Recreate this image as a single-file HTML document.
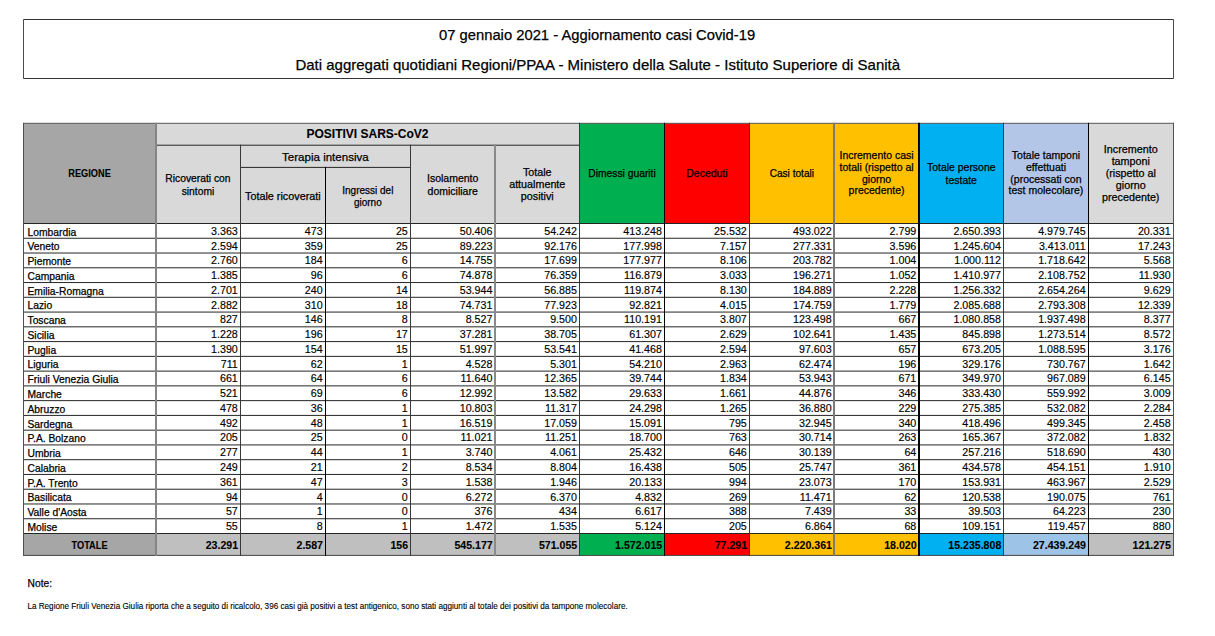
<!DOCTYPE html>
<html><head><meta charset="utf-8"><style>
html,body{margin:0;padding:0;background:#fff;}
body{width:1215px;height:636px;overflow:hidden;position:relative;}
svg{position:absolute;left:0;top:0;font-family:"Liberation Sans",sans-serif;}
text{stroke:#000;stroke-width:0.25px;}
text[font-weight=bold]{stroke-width:0.1px;}
text.sm{stroke-width:0.12px;}
text.num{stroke-width:0.15px;}
</style></head><body>
<svg width="1215" height="636" viewBox="0 0 1215 636">
<line x1="23.50" y1="19.50" x2="1173.50" y2="19.50" stroke="#333" stroke-width="1"/>
<line x1="23.50" y1="78.50" x2="1173.50" y2="78.50" stroke="#333" stroke-width="1"/>
<line x1="23.50" y1="19.50" x2="23.50" y2="78.50" stroke="#4a4a4a" stroke-width="1"/>
<line x1="1173.50" y1="19.50" x2="1173.50" y2="78.50" stroke="#4a4a4a" stroke-width="1"/>
<text x="439.00" y="39.90" font-size="15" textLength="316.20" lengthAdjust="spacingAndGlyphs">07 gennaio 2021 - Aggiornamento casi Covid-19</text>
<text x="295.40" y="69.80" font-size="14.8" textLength="604.70" lengthAdjust="spacingAndGlyphs">Dati aggregati quotidiani Regioni/PPAA - Ministero della Salute - Istituto Superiore di Sanità</text>
<rect x="23.60" y="123.30" width="131.90" height="99.90" fill="#a6a6a6"/>
<rect x="155.50" y="123.30" width="424.00" height="99.90" fill="#d9d9d9"/>
<rect x="579.50" y="123.30" width="85.00" height="99.90" fill="#00b050"/>
<rect x="664.50" y="123.30" width="84.90" height="99.90" fill="#ff0000"/>
<rect x="749.40" y="123.30" width="84.90" height="99.90" fill="#ffc000"/>
<rect x="834.30" y="123.30" width="84.60" height="99.90" fill="#ffc000"/>
<rect x="918.90" y="123.30" width="84.70" height="99.90" fill="#00b0f0"/>
<rect x="1003.60" y="123.30" width="84.70" height="99.90" fill="#b4c6e7"/>
<rect x="1088.30" y="123.30" width="84.90" height="99.90" fill="#d9d9d9"/>
<rect x="23.60" y="533.50" width="131.90" height="21.90" fill="#a6a6a6"/>
<rect x="155.50" y="533.50" width="84.90" height="21.90" fill="#bfbfbf"/>
<rect x="240.40" y="533.50" width="84.90" height="21.90" fill="#bfbfbf"/>
<rect x="325.30" y="533.50" width="85.10" height="21.90" fill="#bfbfbf"/>
<rect x="410.40" y="533.50" width="84.60" height="21.90" fill="#bfbfbf"/>
<rect x="495.00" y="533.50" width="84.50" height="21.90" fill="#bfbfbf"/>
<rect x="579.50" y="533.50" width="85.00" height="21.90" fill="#00b050"/>
<rect x="664.50" y="533.50" width="84.90" height="21.90" fill="#ff0000"/>
<rect x="749.40" y="533.50" width="84.90" height="21.90" fill="#ffc000"/>
<rect x="834.30" y="533.50" width="84.60" height="21.90" fill="#ffc000"/>
<rect x="918.90" y="533.50" width="84.70" height="21.90" fill="#00b0f0"/>
<rect x="1003.60" y="533.50" width="84.70" height="21.90" fill="#9dc3e6"/>
<rect x="1088.30" y="533.50" width="84.90" height="21.90" fill="#bfbfbf"/>
<line x1="23.60" y1="123.30" x2="1173.70" y2="123.30" stroke="#555" stroke-width="1"/>
<line x1="155.50" y1="145.20" x2="579.50" y2="145.20" stroke="#262626" stroke-width="1.0"/>
<line x1="240.40" y1="167.40" x2="410.40" y2="167.40" stroke="#262626" stroke-width="1.0"/>
<line x1="23.60" y1="223.50" x2="1173.70" y2="223.50" stroke="#262626" stroke-width="1.0"/>
<line x1="23.60" y1="238.26" x2="1173.70" y2="238.26" stroke="#262626" stroke-width="1.0"/>
<line x1="23.60" y1="253.02" x2="1173.70" y2="253.02" stroke="#262626" stroke-width="1.0"/>
<line x1="23.60" y1="267.79" x2="1173.70" y2="267.79" stroke="#262626" stroke-width="1.0"/>
<line x1="23.60" y1="282.55" x2="1173.70" y2="282.55" stroke="#262626" stroke-width="1.0"/>
<line x1="23.60" y1="297.31" x2="1173.70" y2="297.31" stroke="#262626" stroke-width="1.0"/>
<line x1="23.60" y1="312.07" x2="1173.70" y2="312.07" stroke="#262626" stroke-width="1.0"/>
<line x1="23.60" y1="326.83" x2="1173.70" y2="326.83" stroke="#262626" stroke-width="1.0"/>
<line x1="23.60" y1="341.60" x2="1173.70" y2="341.60" stroke="#262626" stroke-width="1.0"/>
<line x1="23.60" y1="356.36" x2="1173.70" y2="356.36" stroke="#262626" stroke-width="1.0"/>
<line x1="23.60" y1="371.12" x2="1173.70" y2="371.12" stroke="#262626" stroke-width="1.0"/>
<line x1="23.60" y1="385.88" x2="1173.70" y2="385.88" stroke="#262626" stroke-width="1.0"/>
<line x1="23.60" y1="400.64" x2="1173.70" y2="400.64" stroke="#262626" stroke-width="1.0"/>
<line x1="23.60" y1="415.41" x2="1173.70" y2="415.41" stroke="#262626" stroke-width="1.0"/>
<line x1="23.60" y1="430.17" x2="1173.70" y2="430.17" stroke="#262626" stroke-width="1.0"/>
<line x1="23.60" y1="444.93" x2="1173.70" y2="444.93" stroke="#262626" stroke-width="1.0"/>
<line x1="23.60" y1="459.69" x2="1173.70" y2="459.69" stroke="#262626" stroke-width="1.0"/>
<line x1="23.60" y1="474.45" x2="1173.70" y2="474.45" stroke="#262626" stroke-width="1.0"/>
<line x1="23.60" y1="489.22" x2="1173.70" y2="489.22" stroke="#262626" stroke-width="1.0"/>
<line x1="23.60" y1="503.98" x2="1173.70" y2="503.98" stroke="#262626" stroke-width="1.0"/>
<line x1="23.60" y1="518.74" x2="1173.70" y2="518.74" stroke="#262626" stroke-width="1.0"/>
<line x1="23.60" y1="533.50" x2="1173.70" y2="533.50" stroke="#262626" stroke-width="1.0"/>
<line x1="23.60" y1="555.40" x2="1173.70" y2="555.40" stroke="#444" stroke-width="1"/>
<rect x="23.00" y="122.80" width="1.00" height="433.10" fill="#505050"/>
<rect x="155.00" y="122.80" width="2.00" height="433.10" fill="#858585"/>
<rect x="240.00" y="144.70" width="1.00" height="411.20" fill="#383838"/>
<rect x="325.00" y="166.90" width="1.00" height="389.00" fill="#000"/>
<rect x="410.00" y="144.70" width="1.00" height="411.20" fill="#383838"/>
<rect x="494.00" y="144.70" width="2.00" height="411.20" fill="#8a8a8a"/>
<rect x="579.00" y="122.80" width="1.00" height="433.10" fill="#383838"/>
<rect x="664.00" y="122.80" width="1.00" height="433.10" fill="#000"/>
<rect x="749.00" y="122.80" width="1.00" height="433.10" fill="#383838"/>
<rect x="833.00" y="122.80" width="2.00" height="433.10" fill="#7a7a7a"/>
<rect x="918.00" y="122.80" width="2.00" height="433.10" fill="#000"/>
<rect x="1003.00" y="122.80" width="1.00" height="433.10" fill="#383838"/>
<rect x="1088.00" y="122.80" width="1.00" height="433.10" fill="#000"/>
<rect x="1173.00" y="122.80" width="1.00" height="433.10" fill="#505050"/>
<text x="89.55" y="177.00" font-size="10" text-anchor="middle" font-weight="bold" textLength="42.50" lengthAdjust="spacingAndGlyphs">REGIONE</text>
<text x="367.50" y="138.40" font-size="13.3" text-anchor="middle" font-weight="bold" textLength="122.00" lengthAdjust="spacingAndGlyphs">POSITIVI SARS-CoV2</text>
<text x="197.95" y="181.80" font-size="10.3" text-anchor="middle">Ricoverati con</text>
<text x="197.95" y="194.65" font-size="10.3" text-anchor="middle">sintomi</text>
<text x="325.40" y="160.90" font-size="11.7" text-anchor="middle" textLength="86.60" lengthAdjust="spacingAndGlyphs">Terapia intensiva</text>
<text x="282.85" y="199.80" font-size="10.8" text-anchor="middle">Totale ricoverati</text>
<text x="367.85" y="193.90" font-size="10.0" text-anchor="middle">Ingressi del</text>
<text x="367.85" y="205.80" font-size="10.0" text-anchor="middle">giorno</text>
<text x="452.70" y="181.65" font-size="10.5" text-anchor="middle">Isolamento</text>
<text x="452.70" y="194.60" font-size="10.5" text-anchor="middle">domiciliare</text>
<text x="537.25" y="175.90" font-size="10.76" text-anchor="middle">Totale</text>
<text x="537.25" y="188.20" font-size="10.76" text-anchor="middle">attualmente</text>
<text x="537.25" y="200.30" font-size="10.76" text-anchor="middle">positivi</text>
<text x="622.00" y="177.10" font-size="10.3" text-anchor="middle">Dimessi guariti</text>
<text x="706.95" y="177.10" font-size="10.46" text-anchor="middle">Deceduti</text>
<text x="791.85" y="177.10" font-size="10.1" text-anchor="middle">Casi totali</text>
<text x="876.60" y="158.70" font-size="10.5" text-anchor="middle">Incremento casi</text>
<text x="876.60" y="170.63" font-size="10.5" text-anchor="middle">totali (rispetto al</text>
<text x="876.60" y="182.56" font-size="10.5" text-anchor="middle">giorno</text>
<text x="876.60" y="194.49" font-size="10.5" text-anchor="middle">precedente)</text>
<text x="961.25" y="170.60" font-size="10.46" text-anchor="middle">Totale persone</text>
<text x="961.25" y="183.70" font-size="10.46" text-anchor="middle">testate</text>
<text x="1045.95" y="158.70" font-size="10.5" text-anchor="middle">Totale tamponi</text>
<text x="1045.95" y="170.63" font-size="10.5" text-anchor="middle">effettuati</text>
<text x="1045.95" y="182.56" font-size="10.5" text-anchor="middle">(processati con</text>
<text x="1045.95" y="194.49" font-size="10.5" text-anchor="middle">test molecolare)</text>
<text x="1130.75" y="152.60" font-size="10.75" text-anchor="middle">Incremento</text>
<text x="1130.75" y="164.72" font-size="10.75" text-anchor="middle">tamponi</text>
<text x="1130.75" y="176.84" font-size="10.75" text-anchor="middle">(rispetto al</text>
<text x="1130.75" y="188.96" font-size="10.75" text-anchor="middle">giorno</text>
<text x="1130.75" y="201.08" font-size="10.75" text-anchor="middle">precedente)</text>
<text x="27.50" y="235.60" font-size="10.3">Lombardia</text>
<text x="237.80" y="234.80" font-size="10.7" class="num" text-anchor="end">3.363</text>
<text x="322.70" y="234.80" font-size="10.7" class="num" text-anchor="end">473</text>
<text x="407.80" y="234.80" font-size="10.7" class="num" text-anchor="end">25</text>
<text x="492.40" y="234.80" font-size="10.7" class="num" text-anchor="end">50.406</text>
<text x="576.90" y="234.80" font-size="10.7" class="num" text-anchor="end">54.242</text>
<text x="661.90" y="234.80" font-size="10.7" class="num" text-anchor="end">413.248</text>
<text x="746.80" y="234.80" font-size="10.7" class="num" text-anchor="end">25.532</text>
<text x="831.70" y="234.80" font-size="10.7" class="num" text-anchor="end">493.022</text>
<text x="916.30" y="234.80" font-size="10.7" class="num" text-anchor="end">2.799</text>
<text x="1001.00" y="234.80" font-size="10.7" class="num" text-anchor="end">2.650.393</text>
<text x="1085.70" y="234.80" font-size="10.7" class="num" text-anchor="end">4.979.745</text>
<text x="1170.60" y="234.80" font-size="10.7" class="num" text-anchor="end">20.331</text>
<text x="27.50" y="250.36" font-size="10.3">Veneto</text>
<text x="237.80" y="249.56" font-size="10.7" class="num" text-anchor="end">2.594</text>
<text x="322.70" y="249.56" font-size="10.7" class="num" text-anchor="end">359</text>
<text x="407.80" y="249.56" font-size="10.7" class="num" text-anchor="end">25</text>
<text x="492.40" y="249.56" font-size="10.7" class="num" text-anchor="end">89.223</text>
<text x="576.90" y="249.56" font-size="10.7" class="num" text-anchor="end">92.176</text>
<text x="661.90" y="249.56" font-size="10.7" class="num" text-anchor="end">177.998</text>
<text x="746.80" y="249.56" font-size="10.7" class="num" text-anchor="end">7.157</text>
<text x="831.70" y="249.56" font-size="10.7" class="num" text-anchor="end">277.331</text>
<text x="916.30" y="249.56" font-size="10.7" class="num" text-anchor="end">3.596</text>
<text x="1001.00" y="249.56" font-size="10.7" class="num" text-anchor="end">1.245.604</text>
<text x="1085.70" y="249.56" font-size="10.7" class="num" text-anchor="end">3.413.011</text>
<text x="1170.60" y="249.56" font-size="10.7" class="num" text-anchor="end">17.243</text>
<text x="27.50" y="265.12" font-size="10.3">Piemonte</text>
<text x="237.80" y="264.32" font-size="10.7" class="num" text-anchor="end">2.760</text>
<text x="322.70" y="264.32" font-size="10.7" class="num" text-anchor="end">184</text>
<text x="407.80" y="264.32" font-size="10.7" class="num" text-anchor="end">6</text>
<text x="492.40" y="264.32" font-size="10.7" class="num" text-anchor="end">14.755</text>
<text x="576.90" y="264.32" font-size="10.7" class="num" text-anchor="end">17.699</text>
<text x="661.90" y="264.32" font-size="10.7" class="num" text-anchor="end">177.977</text>
<text x="746.80" y="264.32" font-size="10.7" class="num" text-anchor="end">8.106</text>
<text x="831.70" y="264.32" font-size="10.7" class="num" text-anchor="end">203.782</text>
<text x="916.30" y="264.32" font-size="10.7" class="num" text-anchor="end">1.004</text>
<text x="1001.00" y="264.32" font-size="10.7" class="num" text-anchor="end">1.000.112</text>
<text x="1085.70" y="264.32" font-size="10.7" class="num" text-anchor="end">1.718.642</text>
<text x="1170.60" y="264.32" font-size="10.7" class="num" text-anchor="end">5.568</text>
<text x="27.50" y="279.89" font-size="10.3">Campania</text>
<text x="237.80" y="279.09" font-size="10.7" class="num" text-anchor="end">1.385</text>
<text x="322.70" y="279.09" font-size="10.7" class="num" text-anchor="end">96</text>
<text x="407.80" y="279.09" font-size="10.7" class="num" text-anchor="end">6</text>
<text x="492.40" y="279.09" font-size="10.7" class="num" text-anchor="end">74.878</text>
<text x="576.90" y="279.09" font-size="10.7" class="num" text-anchor="end">76.359</text>
<text x="661.90" y="279.09" font-size="10.7" class="num" text-anchor="end">116.879</text>
<text x="746.80" y="279.09" font-size="10.7" class="num" text-anchor="end">3.033</text>
<text x="831.70" y="279.09" font-size="10.7" class="num" text-anchor="end">196.271</text>
<text x="916.30" y="279.09" font-size="10.7" class="num" text-anchor="end">1.052</text>
<text x="1001.00" y="279.09" font-size="10.7" class="num" text-anchor="end">1.410.977</text>
<text x="1085.70" y="279.09" font-size="10.7" class="num" text-anchor="end">2.108.752</text>
<text x="1170.60" y="279.09" font-size="10.7" class="num" text-anchor="end">11.930</text>
<text x="27.50" y="294.65" font-size="10.3">Emilia-Romagna</text>
<text x="237.80" y="293.85" font-size="10.7" class="num" text-anchor="end">2.701</text>
<text x="322.70" y="293.85" font-size="10.7" class="num" text-anchor="end">240</text>
<text x="407.80" y="293.85" font-size="10.7" class="num" text-anchor="end">14</text>
<text x="492.40" y="293.85" font-size="10.7" class="num" text-anchor="end">53.944</text>
<text x="576.90" y="293.85" font-size="10.7" class="num" text-anchor="end">56.885</text>
<text x="661.90" y="293.85" font-size="10.7" class="num" text-anchor="end">119.874</text>
<text x="746.80" y="293.85" font-size="10.7" class="num" text-anchor="end">8.130</text>
<text x="831.70" y="293.85" font-size="10.7" class="num" text-anchor="end">184.889</text>
<text x="916.30" y="293.85" font-size="10.7" class="num" text-anchor="end">2.228</text>
<text x="1001.00" y="293.85" font-size="10.7" class="num" text-anchor="end">1.256.332</text>
<text x="1085.70" y="293.85" font-size="10.7" class="num" text-anchor="end">2.654.264</text>
<text x="1170.60" y="293.85" font-size="10.7" class="num" text-anchor="end">9.629</text>
<text x="27.50" y="309.41" font-size="10.3">Lazio</text>
<text x="237.80" y="308.61" font-size="10.7" class="num" text-anchor="end">2.882</text>
<text x="322.70" y="308.61" font-size="10.7" class="num" text-anchor="end">310</text>
<text x="407.80" y="308.61" font-size="10.7" class="num" text-anchor="end">18</text>
<text x="492.40" y="308.61" font-size="10.7" class="num" text-anchor="end">74.731</text>
<text x="576.90" y="308.61" font-size="10.7" class="num" text-anchor="end">77.923</text>
<text x="661.90" y="308.61" font-size="10.7" class="num" text-anchor="end">92.821</text>
<text x="746.80" y="308.61" font-size="10.7" class="num" text-anchor="end">4.015</text>
<text x="831.70" y="308.61" font-size="10.7" class="num" text-anchor="end">174.759</text>
<text x="916.30" y="308.61" font-size="10.7" class="num" text-anchor="end">1.779</text>
<text x="1001.00" y="308.61" font-size="10.7" class="num" text-anchor="end">2.085.688</text>
<text x="1085.70" y="308.61" font-size="10.7" class="num" text-anchor="end">2.793.308</text>
<text x="1170.60" y="308.61" font-size="10.7" class="num" text-anchor="end">12.339</text>
<text x="27.50" y="324.17" font-size="10.3">Toscana</text>
<text x="237.80" y="323.37" font-size="10.7" class="num" text-anchor="end">827</text>
<text x="322.70" y="323.37" font-size="10.7" class="num" text-anchor="end">146</text>
<text x="407.80" y="323.37" font-size="10.7" class="num" text-anchor="end">8</text>
<text x="492.40" y="323.37" font-size="10.7" class="num" text-anchor="end">8.527</text>
<text x="576.90" y="323.37" font-size="10.7" class="num" text-anchor="end">9.500</text>
<text x="661.90" y="323.37" font-size="10.7" class="num" text-anchor="end">110.191</text>
<text x="746.80" y="323.37" font-size="10.7" class="num" text-anchor="end">3.807</text>
<text x="831.70" y="323.37" font-size="10.7" class="num" text-anchor="end">123.498</text>
<text x="916.30" y="323.37" font-size="10.7" class="num" text-anchor="end">667</text>
<text x="1001.00" y="323.37" font-size="10.7" class="num" text-anchor="end">1.080.858</text>
<text x="1085.70" y="323.37" font-size="10.7" class="num" text-anchor="end">1.937.498</text>
<text x="1170.60" y="323.37" font-size="10.7" class="num" text-anchor="end">8.377</text>
<text x="27.50" y="338.93" font-size="10.3">Sicilia</text>
<text x="237.80" y="338.13" font-size="10.7" class="num" text-anchor="end">1.228</text>
<text x="322.70" y="338.13" font-size="10.7" class="num" text-anchor="end">196</text>
<text x="407.80" y="338.13" font-size="10.7" class="num" text-anchor="end">17</text>
<text x="492.40" y="338.13" font-size="10.7" class="num" text-anchor="end">37.281</text>
<text x="576.90" y="338.13" font-size="10.7" class="num" text-anchor="end">38.705</text>
<text x="661.90" y="338.13" font-size="10.7" class="num" text-anchor="end">61.307</text>
<text x="746.80" y="338.13" font-size="10.7" class="num" text-anchor="end">2.629</text>
<text x="831.70" y="338.13" font-size="10.7" class="num" text-anchor="end">102.641</text>
<text x="916.30" y="338.13" font-size="10.7" class="num" text-anchor="end">1.435</text>
<text x="1001.00" y="338.13" font-size="10.7" class="num" text-anchor="end">845.898</text>
<text x="1085.70" y="338.13" font-size="10.7" class="num" text-anchor="end">1.273.514</text>
<text x="1170.60" y="338.13" font-size="10.7" class="num" text-anchor="end">8.572</text>
<text x="27.50" y="353.70" font-size="10.3">Puglia</text>
<text x="237.80" y="352.90" font-size="10.7" class="num" text-anchor="end">1.390</text>
<text x="322.70" y="352.90" font-size="10.7" class="num" text-anchor="end">154</text>
<text x="407.80" y="352.90" font-size="10.7" class="num" text-anchor="end">15</text>
<text x="492.40" y="352.90" font-size="10.7" class="num" text-anchor="end">51.997</text>
<text x="576.90" y="352.90" font-size="10.7" class="num" text-anchor="end">53.541</text>
<text x="661.90" y="352.90" font-size="10.7" class="num" text-anchor="end">41.468</text>
<text x="746.80" y="352.90" font-size="10.7" class="num" text-anchor="end">2.594</text>
<text x="831.70" y="352.90" font-size="10.7" class="num" text-anchor="end">97.603</text>
<text x="916.30" y="352.90" font-size="10.7" class="num" text-anchor="end">657</text>
<text x="1001.00" y="352.90" font-size="10.7" class="num" text-anchor="end">673.205</text>
<text x="1085.70" y="352.90" font-size="10.7" class="num" text-anchor="end">1.088.595</text>
<text x="1170.60" y="352.90" font-size="10.7" class="num" text-anchor="end">3.176</text>
<text x="27.50" y="368.46" font-size="10.3">Liguria</text>
<text x="237.80" y="367.66" font-size="10.7" class="num" text-anchor="end">711</text>
<text x="322.70" y="367.66" font-size="10.7" class="num" text-anchor="end">62</text>
<text x="407.80" y="367.66" font-size="10.7" class="num" text-anchor="end">1</text>
<text x="492.40" y="367.66" font-size="10.7" class="num" text-anchor="end">4.528</text>
<text x="576.90" y="367.66" font-size="10.7" class="num" text-anchor="end">5.301</text>
<text x="661.90" y="367.66" font-size="10.7" class="num" text-anchor="end">54.210</text>
<text x="746.80" y="367.66" font-size="10.7" class="num" text-anchor="end">2.963</text>
<text x="831.70" y="367.66" font-size="10.7" class="num" text-anchor="end">62.474</text>
<text x="916.30" y="367.66" font-size="10.7" class="num" text-anchor="end">196</text>
<text x="1001.00" y="367.66" font-size="10.7" class="num" text-anchor="end">329.176</text>
<text x="1085.70" y="367.66" font-size="10.7" class="num" text-anchor="end">730.767</text>
<text x="1170.60" y="367.66" font-size="10.7" class="num" text-anchor="end">1.642</text>
<text x="27.50" y="383.22" font-size="10.3">Friuli Venezia Giulia</text>
<text x="237.80" y="382.42" font-size="10.7" class="num" text-anchor="end">661</text>
<text x="322.70" y="382.42" font-size="10.7" class="num" text-anchor="end">64</text>
<text x="407.80" y="382.42" font-size="10.7" class="num" text-anchor="end">6</text>
<text x="492.40" y="382.42" font-size="10.7" class="num" text-anchor="end">11.640</text>
<text x="576.90" y="382.42" font-size="10.7" class="num" text-anchor="end">12.365</text>
<text x="661.90" y="382.42" font-size="10.7" class="num" text-anchor="end">39.744</text>
<text x="746.80" y="382.42" font-size="10.7" class="num" text-anchor="end">1.834</text>
<text x="831.70" y="382.42" font-size="10.7" class="num" text-anchor="end">53.943</text>
<text x="916.30" y="382.42" font-size="10.7" class="num" text-anchor="end">671</text>
<text x="1001.00" y="382.42" font-size="10.7" class="num" text-anchor="end">349.970</text>
<text x="1085.70" y="382.42" font-size="10.7" class="num" text-anchor="end">967.089</text>
<text x="1170.60" y="382.42" font-size="10.7" class="num" text-anchor="end">6.145</text>
<text x="27.50" y="397.98" font-size="10.3">Marche</text>
<text x="237.80" y="397.18" font-size="10.7" class="num" text-anchor="end">521</text>
<text x="322.70" y="397.18" font-size="10.7" class="num" text-anchor="end">69</text>
<text x="407.80" y="397.18" font-size="10.7" class="num" text-anchor="end">6</text>
<text x="492.40" y="397.18" font-size="10.7" class="num" text-anchor="end">12.992</text>
<text x="576.90" y="397.18" font-size="10.7" class="num" text-anchor="end">13.582</text>
<text x="661.90" y="397.18" font-size="10.7" class="num" text-anchor="end">29.633</text>
<text x="746.80" y="397.18" font-size="10.7" class="num" text-anchor="end">1.661</text>
<text x="831.70" y="397.18" font-size="10.7" class="num" text-anchor="end">44.876</text>
<text x="916.30" y="397.18" font-size="10.7" class="num" text-anchor="end">346</text>
<text x="1001.00" y="397.18" font-size="10.7" class="num" text-anchor="end">333.430</text>
<text x="1085.70" y="397.18" font-size="10.7" class="num" text-anchor="end">559.992</text>
<text x="1170.60" y="397.18" font-size="10.7" class="num" text-anchor="end">3.009</text>
<text x="27.50" y="412.74" font-size="10.3">Abruzzo</text>
<text x="237.80" y="411.94" font-size="10.7" class="num" text-anchor="end">478</text>
<text x="322.70" y="411.94" font-size="10.7" class="num" text-anchor="end">36</text>
<text x="407.80" y="411.94" font-size="10.7" class="num" text-anchor="end">1</text>
<text x="492.40" y="411.94" font-size="10.7" class="num" text-anchor="end">10.803</text>
<text x="576.90" y="411.94" font-size="10.7" class="num" text-anchor="end">11.317</text>
<text x="661.90" y="411.94" font-size="10.7" class="num" text-anchor="end">24.298</text>
<text x="746.80" y="411.94" font-size="10.7" class="num" text-anchor="end">1.265</text>
<text x="831.70" y="411.94" font-size="10.7" class="num" text-anchor="end">36.880</text>
<text x="916.30" y="411.94" font-size="10.7" class="num" text-anchor="end">229</text>
<text x="1001.00" y="411.94" font-size="10.7" class="num" text-anchor="end">275.385</text>
<text x="1085.70" y="411.94" font-size="10.7" class="num" text-anchor="end">532.082</text>
<text x="1170.60" y="411.94" font-size="10.7" class="num" text-anchor="end">2.284</text>
<text x="27.50" y="427.51" font-size="10.3">Sardegna</text>
<text x="237.80" y="426.71" font-size="10.7" class="num" text-anchor="end">492</text>
<text x="322.70" y="426.71" font-size="10.7" class="num" text-anchor="end">48</text>
<text x="407.80" y="426.71" font-size="10.7" class="num" text-anchor="end">1</text>
<text x="492.40" y="426.71" font-size="10.7" class="num" text-anchor="end">16.519</text>
<text x="576.90" y="426.71" font-size="10.7" class="num" text-anchor="end">17.059</text>
<text x="661.90" y="426.71" font-size="10.7" class="num" text-anchor="end">15.091</text>
<text x="746.80" y="426.71" font-size="10.7" class="num" text-anchor="end">795</text>
<text x="831.70" y="426.71" font-size="10.7" class="num" text-anchor="end">32.945</text>
<text x="916.30" y="426.71" font-size="10.7" class="num" text-anchor="end">340</text>
<text x="1001.00" y="426.71" font-size="10.7" class="num" text-anchor="end">418.496</text>
<text x="1085.70" y="426.71" font-size="10.7" class="num" text-anchor="end">499.345</text>
<text x="1170.60" y="426.71" font-size="10.7" class="num" text-anchor="end">2.458</text>
<text x="27.50" y="442.27" font-size="10.3">P.A. Bolzano</text>
<text x="237.80" y="441.47" font-size="10.7" class="num" text-anchor="end">205</text>
<text x="322.70" y="441.47" font-size="10.7" class="num" text-anchor="end">25</text>
<text x="407.80" y="441.47" font-size="10.7" class="num" text-anchor="end">0</text>
<text x="492.40" y="441.47" font-size="10.7" class="num" text-anchor="end">11.021</text>
<text x="576.90" y="441.47" font-size="10.7" class="num" text-anchor="end">11.251</text>
<text x="661.90" y="441.47" font-size="10.7" class="num" text-anchor="end">18.700</text>
<text x="746.80" y="441.47" font-size="10.7" class="num" text-anchor="end">763</text>
<text x="831.70" y="441.47" font-size="10.7" class="num" text-anchor="end">30.714</text>
<text x="916.30" y="441.47" font-size="10.7" class="num" text-anchor="end">263</text>
<text x="1001.00" y="441.47" font-size="10.7" class="num" text-anchor="end">165.367</text>
<text x="1085.70" y="441.47" font-size="10.7" class="num" text-anchor="end">372.082</text>
<text x="1170.60" y="441.47" font-size="10.7" class="num" text-anchor="end">1.832</text>
<text x="27.50" y="457.03" font-size="10.3">Umbria</text>
<text x="237.80" y="456.23" font-size="10.7" class="num" text-anchor="end">277</text>
<text x="322.70" y="456.23" font-size="10.7" class="num" text-anchor="end">44</text>
<text x="407.80" y="456.23" font-size="10.7" class="num" text-anchor="end">1</text>
<text x="492.40" y="456.23" font-size="10.7" class="num" text-anchor="end">3.740</text>
<text x="576.90" y="456.23" font-size="10.7" class="num" text-anchor="end">4.061</text>
<text x="661.90" y="456.23" font-size="10.7" class="num" text-anchor="end">25.432</text>
<text x="746.80" y="456.23" font-size="10.7" class="num" text-anchor="end">646</text>
<text x="831.70" y="456.23" font-size="10.7" class="num" text-anchor="end">30.139</text>
<text x="916.30" y="456.23" font-size="10.7" class="num" text-anchor="end">64</text>
<text x="1001.00" y="456.23" font-size="10.7" class="num" text-anchor="end">257.216</text>
<text x="1085.70" y="456.23" font-size="10.7" class="num" text-anchor="end">518.690</text>
<text x="1170.60" y="456.23" font-size="10.7" class="num" text-anchor="end">430</text>
<text x="27.50" y="471.79" font-size="10.3">Calabria</text>
<text x="237.80" y="470.99" font-size="10.7" class="num" text-anchor="end">249</text>
<text x="322.70" y="470.99" font-size="10.7" class="num" text-anchor="end">21</text>
<text x="407.80" y="470.99" font-size="10.7" class="num" text-anchor="end">2</text>
<text x="492.40" y="470.99" font-size="10.7" class="num" text-anchor="end">8.534</text>
<text x="576.90" y="470.99" font-size="10.7" class="num" text-anchor="end">8.804</text>
<text x="661.90" y="470.99" font-size="10.7" class="num" text-anchor="end">16.438</text>
<text x="746.80" y="470.99" font-size="10.7" class="num" text-anchor="end">505</text>
<text x="831.70" y="470.99" font-size="10.7" class="num" text-anchor="end">25.747</text>
<text x="916.30" y="470.99" font-size="10.7" class="num" text-anchor="end">361</text>
<text x="1001.00" y="470.99" font-size="10.7" class="num" text-anchor="end">434.578</text>
<text x="1085.70" y="470.99" font-size="10.7" class="num" text-anchor="end">454.151</text>
<text x="1170.60" y="470.99" font-size="10.7" class="num" text-anchor="end">1.910</text>
<text x="27.50" y="486.55" font-size="10.3">P.A. Trento</text>
<text x="237.80" y="485.75" font-size="10.7" class="num" text-anchor="end">361</text>
<text x="322.70" y="485.75" font-size="10.7" class="num" text-anchor="end">47</text>
<text x="407.80" y="485.75" font-size="10.7" class="num" text-anchor="end">3</text>
<text x="492.40" y="485.75" font-size="10.7" class="num" text-anchor="end">1.538</text>
<text x="576.90" y="485.75" font-size="10.7" class="num" text-anchor="end">1.946</text>
<text x="661.90" y="485.75" font-size="10.7" class="num" text-anchor="end">20.133</text>
<text x="746.80" y="485.75" font-size="10.7" class="num" text-anchor="end">994</text>
<text x="831.70" y="485.75" font-size="10.7" class="num" text-anchor="end">23.073</text>
<text x="916.30" y="485.75" font-size="10.7" class="num" text-anchor="end">170</text>
<text x="1001.00" y="485.75" font-size="10.7" class="num" text-anchor="end">153.931</text>
<text x="1085.70" y="485.75" font-size="10.7" class="num" text-anchor="end">463.967</text>
<text x="1170.60" y="485.75" font-size="10.7" class="num" text-anchor="end">2.529</text>
<text x="27.50" y="501.32" font-size="10.3">Basilicata</text>
<text x="237.80" y="500.52" font-size="10.7" class="num" text-anchor="end">94</text>
<text x="322.70" y="500.52" font-size="10.7" class="num" text-anchor="end">4</text>
<text x="407.80" y="500.52" font-size="10.7" class="num" text-anchor="end">0</text>
<text x="492.40" y="500.52" font-size="10.7" class="num" text-anchor="end">6.272</text>
<text x="576.90" y="500.52" font-size="10.7" class="num" text-anchor="end">6.370</text>
<text x="661.90" y="500.52" font-size="10.7" class="num" text-anchor="end">4.832</text>
<text x="746.80" y="500.52" font-size="10.7" class="num" text-anchor="end">269</text>
<text x="831.70" y="500.52" font-size="10.7" class="num" text-anchor="end">11.471</text>
<text x="916.30" y="500.52" font-size="10.7" class="num" text-anchor="end">62</text>
<text x="1001.00" y="500.52" font-size="10.7" class="num" text-anchor="end">120.538</text>
<text x="1085.70" y="500.52" font-size="10.7" class="num" text-anchor="end">190.075</text>
<text x="1170.60" y="500.52" font-size="10.7" class="num" text-anchor="end">761</text>
<text x="27.50" y="516.08" font-size="10.3">Valle d&#x27;Aosta</text>
<text x="237.80" y="515.28" font-size="10.7" class="num" text-anchor="end">57</text>
<text x="322.70" y="515.28" font-size="10.7" class="num" text-anchor="end">1</text>
<text x="407.80" y="515.28" font-size="10.7" class="num" text-anchor="end">0</text>
<text x="492.40" y="515.28" font-size="10.7" class="num" text-anchor="end">376</text>
<text x="576.90" y="515.28" font-size="10.7" class="num" text-anchor="end">434</text>
<text x="661.90" y="515.28" font-size="10.7" class="num" text-anchor="end">6.617</text>
<text x="746.80" y="515.28" font-size="10.7" class="num" text-anchor="end">388</text>
<text x="831.70" y="515.28" font-size="10.7" class="num" text-anchor="end">7.439</text>
<text x="916.30" y="515.28" font-size="10.7" class="num" text-anchor="end">33</text>
<text x="1001.00" y="515.28" font-size="10.7" class="num" text-anchor="end">39.503</text>
<text x="1085.70" y="515.28" font-size="10.7" class="num" text-anchor="end">64.223</text>
<text x="1170.60" y="515.28" font-size="10.7" class="num" text-anchor="end">230</text>
<text x="27.50" y="530.84" font-size="10.3">Molise</text>
<text x="237.80" y="530.04" font-size="10.7" class="num" text-anchor="end">55</text>
<text x="322.70" y="530.04" font-size="10.7" class="num" text-anchor="end">8</text>
<text x="407.80" y="530.04" font-size="10.7" class="num" text-anchor="end">1</text>
<text x="492.40" y="530.04" font-size="10.7" class="num" text-anchor="end">1.472</text>
<text x="576.90" y="530.04" font-size="10.7" class="num" text-anchor="end">1.535</text>
<text x="661.90" y="530.04" font-size="10.7" class="num" text-anchor="end">5.124</text>
<text x="746.80" y="530.04" font-size="10.7" class="num" text-anchor="end">205</text>
<text x="831.70" y="530.04" font-size="10.7" class="num" text-anchor="end">6.864</text>
<text x="916.30" y="530.04" font-size="10.7" class="num" text-anchor="end">68</text>
<text x="1001.00" y="530.04" font-size="10.7" class="num" text-anchor="end">109.151</text>
<text x="1085.70" y="530.04" font-size="10.7" class="num" text-anchor="end">119.457</text>
<text x="1170.60" y="530.04" font-size="10.7" class="num" text-anchor="end">880</text>
<text x="89.55" y="549.00" font-size="10.2" text-anchor="middle" font-weight="bold" textLength="36.00" lengthAdjust="spacingAndGlyphs">TOTALE</text>
<text x="238.10" y="549.00" font-size="10.6" text-anchor="end" font-weight="bold">23.291</text>
<text x="323.00" y="549.00" font-size="10.6" text-anchor="end" font-weight="bold">2.587</text>
<text x="408.10" y="549.00" font-size="10.6" text-anchor="end" font-weight="bold">156</text>
<text x="492.70" y="549.00" font-size="10.6" text-anchor="end" font-weight="bold">545.177</text>
<text x="577.20" y="549.00" font-size="10.6" text-anchor="end" font-weight="bold">571.055</text>
<text x="662.20" y="549.00" font-size="10.6" text-anchor="end" font-weight="bold">1.572.015</text>
<text x="747.10" y="549.00" font-size="10.6" text-anchor="end" font-weight="bold">77.291</text>
<text x="832.00" y="549.00" font-size="10.6" text-anchor="end" font-weight="bold">2.220.361</text>
<text x="916.60" y="549.00" font-size="10.6" text-anchor="end" font-weight="bold">18.020</text>
<text x="1001.30" y="549.00" font-size="10.6" text-anchor="end" font-weight="bold">15.235.808</text>
<text x="1086.00" y="549.00" font-size="10.6" text-anchor="end" font-weight="bold">27.439.249</text>
<text x="1170.90" y="549.00" font-size="10.6" text-anchor="end" font-weight="bold">121.275</text>
<text x="27.60" y="587.00" font-size="10.6" textLength="24.40" lengthAdjust="spacingAndGlyphs">Note:</text>
<text x="27.40" y="609.00" font-size="8.5" class="sm" textLength="600.30" lengthAdjust="spacingAndGlyphs">La Regione Friuli Venezia Giulia riporta che a seguito di ricalcolo, 396 casi già positivi a test antigenico, sono stati aggiunti al totale dei positivi da tampone molecolare.</text>
</svg>
</body></html>
